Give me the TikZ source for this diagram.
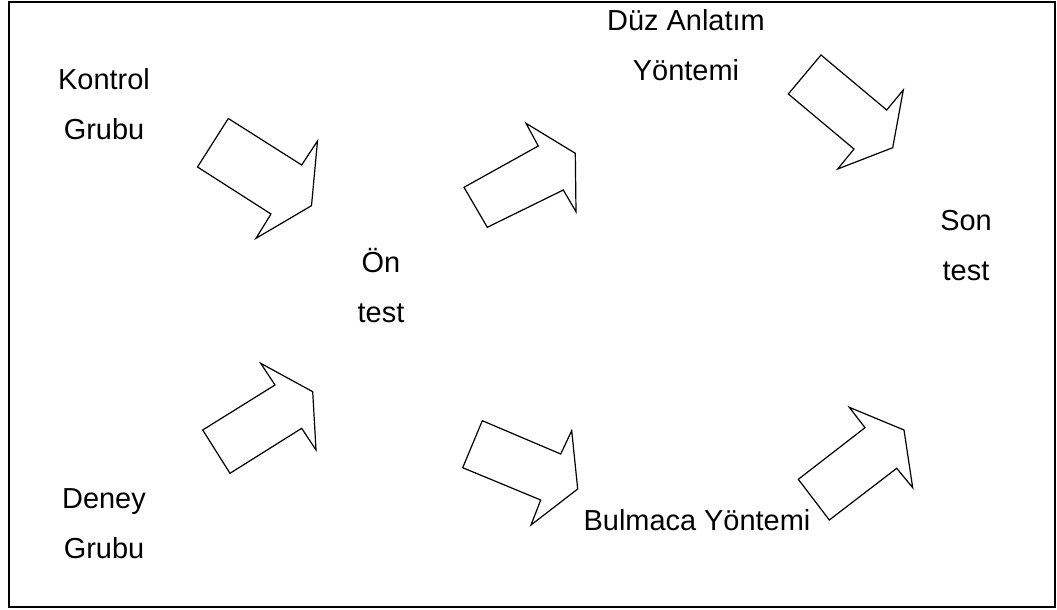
\documentclass[tikz,border=0pt]{standalone}
\usepackage{fontspec}
\setmainfont{Liberation Sans}
\usetikzlibrary{positioning}

\begin{document}
\begin{tikzpicture}[
    x=0.75pt, y=-0.75pt,
    frame/.style={draw=black, line width=1.5pt},
    blockarrow/.style={draw=black, line width=0.9pt, line join=miter, fill=white},
    lbl/.style={font=\fontsize{21.7}{37.5}\selectfont, align=center, inner sep=0pt, anchor=base}
]

\useasboundingbox (0,0) rectangle (1057,610);

% Frame
\draw[frame] (9,2) rectangle (1055,607);

% Groups
\node[lbl] (kontrol) at (104,139) {Kontrol\\Grubu};
\node[lbl] (deney) at (104,558) {Deney\\Grubu};

% Tests
\node[lbl] (ontest) at (381,322) {Ön\\test};
\node[lbl] (sontest) at (966,280) {Son\\test};

% Methods
\node[lbl] (duz) at (686,81) {Düz Anlatım\\Yöntemi};
\node[lbl] (bulmaca) at (697,530) {Bulmaca Yöntemi};

% Block arrows, left side
\draw[blockarrow] (228.3,118.5) -- (301.7,165) -- (317.5,141) -- (311.5,205.7)
    -- (256,238.3) -- (271,214) -- (197.5,167) -- cycle;
\draw[blockarrow] (260.7,363.3) -- (312.7,391.7) -- (316,450) -- (301.7,428.3)
    -- (230,473.3) -- (202.7,430) -- (275,385) -- cycle;

% Block arrows, middle
\draw[blockarrow] (526,123.3) -- (575.3,153.3) -- (576,211.7) -- (563.3,190)
    -- (487.3,227.3) -- (464,187.3) -- (538.3,146) -- cycle;
\draw[blockarrow] (482.3,420.7) -- (560.7,454) -- (571.7,430.7) -- (577.7,489)
    -- (531,525) -- (540.7,500) -- (462.7,467.7) -- cycle;

% Block arrows, right side
\draw[blockarrow] (821,55) -- (886.7,110) -- (903.3,90) -- (892.7,147.7)
    -- (837.7,169) -- (854,149) -- (788.3,94) -- cycle;
\draw[blockarrow] (849.3,407.3) -- (904,430) -- (912.7,487.7) -- (896.7,468.3)
    -- (829.3,520) -- (798.3,479.3) -- (865,427.7) -- cycle;

\end{tikzpicture}
\end{document}
